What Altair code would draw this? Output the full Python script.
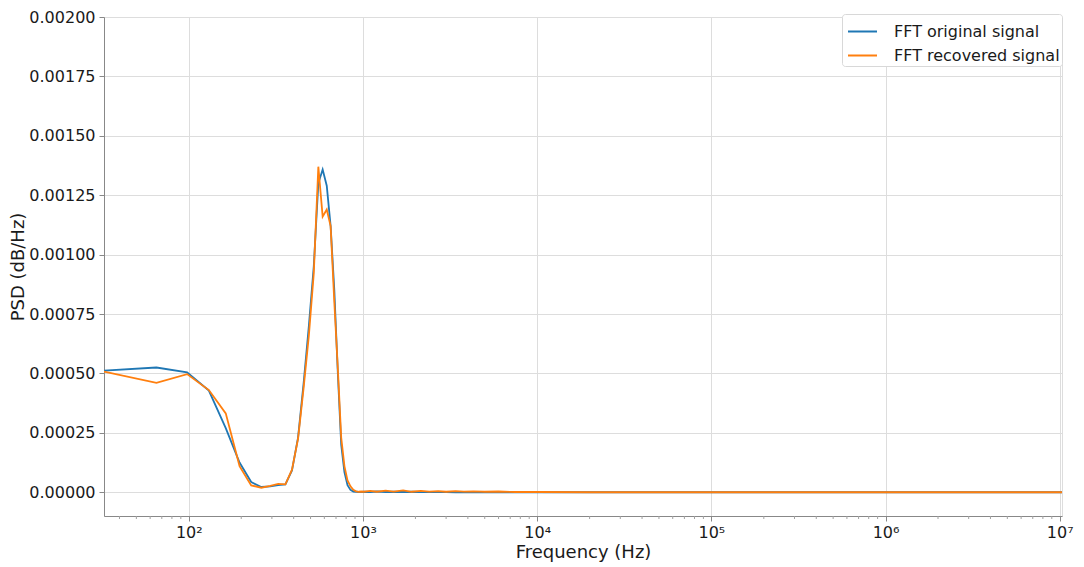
import altair as alt
import pandas as pd

# Frequency bins (Hz)
freq_hz = [32.6, 65.2, 97.8, 130.4, 163.0, 195.6, 228.2, 260.8, 293.4, 326.0,
           358.6, 391.2, 423.8, 456.4, 489.0, 521.6, 554.2, 586.8, 619.4, 652.0,
           684.6, 717.2, 749.8, 782.4, 815.0, 847.6, 880.2, 912.8, 945.4, 978.0,
           1010, 1100, 1200, 1350, 1500, 1700, 1900, 2150, 2400, 2700,
           3000, 3400, 3800, 4300, 5000, 6000, 7500, 10000, 20000, 50000,
           100000, 1000000, 10300000]

psd_original = [0.000512, 0.000525, 0.000505, 0.000428, 0.000270, 0.000125, 0.000043, 0.000022, 0.000025, 0.000030,
                0.000033, 0.000092, 0.000230, 0.000460, 0.000700, 0.000950, 0.001300, 0.001358, 0.001290, 0.001120,
                0.000850, 0.000500, 0.000200, 0.000085, 0.000030, 0.000010, 0.000003, 0.000002, 0.000001, 0.000001,
                0.000002, 0.000001, 0.000003, 0.000001, 0.000002, 0.000001, 0.000002, 0.000001, 0.000001, 0.000001,
                0.000001, 0.000000, 0.000001, 0.000000, 0.000000, 0.000000, 0.000000, 0.000000, 0.000000, 0.000000,
                0.000000, 0.000000, 0.000000]

psd_recovered = [0.000508, 0.000460, 0.000497, 0.000430, 0.000332, 0.000110, 0.000029, 0.000019, 0.000027, 0.000035,
                 0.000033, 0.000095, 0.000225, 0.000440, 0.000660, 0.000920, 0.001370, 0.001160, 0.001190, 0.001120,
                 0.000800, 0.000520, 0.000230, 0.000110, 0.000050, 0.000025, 0.000010, 0.000004, 0.000002, 0.000003,
                 0.000002, 0.000006, 0.000002, 0.000007, 0.000003, 0.000008, 0.000002, 0.000006, 0.000003, 0.000005,
                 0.000002, 0.000005, 0.000003, 0.000004, 0.000002, 0.000003, 0.000001, 0.000001, 0.000000, 0.000000,
                 0.000000, 0.000000, 0.000000]

series_names = ["FFT original signal", "FFT recovered signal"]
series_colors = ["#1f77b4", "#ff7f0e"]

x_domain = [32.6, 10300000]
y_domain = [-0.0001, 0.002]
x_major_ticks = [1e2, 1e3, 1e4, 1e5, 1e6, 1e7]
x_minor_ticks = [m * 10 ** e for e in range(1, 7) for m in range(2, 10)
                 if x_domain[0] <= m * 10 ** e <= x_domain[1]]
y_ticks = [0, 0.00025, 0.0005, 0.00075, 0.001, 0.00125, 0.0015, 0.00175, 0.002]

df = pd.DataFrame({
    "freq": freq_hz * 2,
    "psd": psd_original + psd_recovered,
    "series": [series_names[0]] * len(freq_hz) + [series_names[1]] * len(freq_hz),
})
minor_df = pd.DataFrame({"freq": x_minor_ticks})

FONT = "DejaVu Sans"
W, H = 958, 499
TXT = "#1a1a1a"

x_scale = alt.Scale(type="log", domain=x_domain, nice=False)
x_axis = alt.Axis(title="Frequency (Hz)", values=x_major_ticks,
                  labelExpr="'10' + ['⁰','¹','²','³','⁴','⁵','⁶','⁷','⁸'][round(log(datum.value)/LN10)]",
                  labelFontSize=16, titleFontSize=18, titleFontWeight="normal",
                  labelFont=FONT, titleFont=FONT, labelColor=TXT, titleColor=TXT,
                  tickSize=5, labelPadding=3, titlePadding=3, grid=True)

lines = alt.Chart(df).mark_line(strokeWidth=1.8, clip=True).encode(
    x=alt.X("freq:Q", scale=x_scale, axis=x_axis),
    y=alt.Y("psd:Q", scale=alt.Scale(domain=y_domain, nice=False, zero=False),
            axis=alt.Axis(title="PSD (dB/Hz)", values=y_ticks, format=".5f",
                          labelFontSize=16, titleFontSize=18, titleFontWeight="normal",
                          labelFont=FONT, titleFont=FONT, labelColor=TXT, titleColor=TXT,
                          tickSize=5, labelPadding=4, titlePadding=1, grid=True)),
    color=alt.Color("series:N",
                    scale=alt.Scale(domain=series_names, range=series_colors),
                    legend=alt.Legend(title=None, orient="none", legendX=738, legendY=-3,
                                      symbolType="stroke", symbolSize=841,
                                      symbolStrokeWidth=2, symbolOffset=3,
                                      labelFontSize=16, labelFont=FONT, labelOffset=16,
                                      labelLimit=300, padding=2, fillColor="white",
                                      strokeColor="#d8d8d8", cornerRadius=3,
                                      rowPadding=-7, labelColor=TXT)),
)

minor = alt.Chart(minor_df).mark_rule(color="#a0a0a0", strokeWidth=1).encode(
    x=alt.X("freq:Q", scale=x_scale, axis=x_axis),
    y=alt.value(H),
    y2=alt.value(H + 3),
)

chart = alt.layer(lines, minor).properties(
    width=W, height=H,
    autosize=alt.AutoSizeParams(type="none"),
    padding={"left": 96, "top": 9, "right": 14, "bottom": 50},
).configure_axis(
    gridColor="#d3d3d3", gridWidth=1.2,
    domainColor="#a0a0a0", domainWidth=1.2, tickColor="#a0a0a0", tickWidth=1,
).configure_view(
    stroke="#a0a0a0", strokeWidth=1.2,
).configure(background="white")

chart.save("out.html", embed_options={"renderer": "svg", "actions": False})
